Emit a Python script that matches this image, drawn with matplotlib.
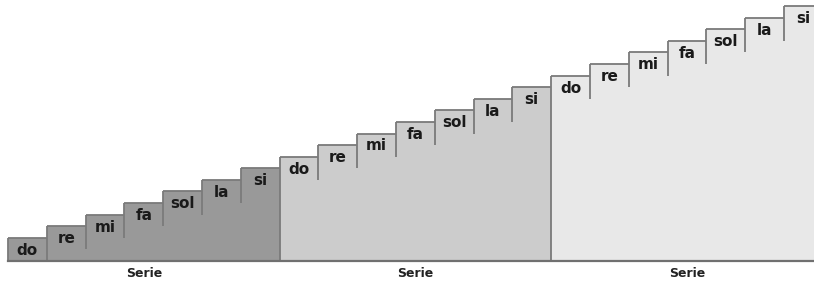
import numpy as np
import matplotlib
matplotlib.use("Agg")
import matplotlib.pyplot as plt

# data
notes = ["do", "re", "mi", "fa", "sol", "la", "si"]
serie_1 = [2, 3, 4, 5, 6, 7, 8]
serie_2 = [9, 10, 11, 12, 13, 14, 15]
serie_3 = [16, 17, 18, 19, 20, 21, 22]
series = [serie_1, serie_2, serie_3]
serie_labels = ["Serie", "Serie", "Serie"]
fills = ["#999999", "#cccccc", "#e8e8e8"]
line_col = "#7a7a7a"

W, H = 814, 284
fig = plt.figure(figsize=(W / 100, H / 100), dpi=100)
# the last group runs a little past the right edge, as in the original
ax = fig.add_axes([8 / W, 23 / H, 21 * 38.8 / W, 255 / H])

n = len(notes)
centers = []
for g, vals in enumerate(series):
    x = np.arange(n) + g * n
    vals = np.array(vals)
    ax.bar(x, vals, width=1.0, color=fills[g], edgecolor="none", zorder=1)
    # top edge of each step
    ax.hlines(vals, x - 0.5, x + 0.5, colors=line_col, lw=1.3, zorder=3,
              clip_on=False)
    # left edge: full for first step of a group, short drop otherwise
    low = np.maximum(vals - 3, 0)
    low[0] = 0
    ax.vlines(x - 0.5, low, vals, colors=line_col, lw=1.3, zorder=3,
              clip_on=False)
    for xi, v, lab in zip(x, vals, notes):
        ax.annotate(lab, (xi, v), xytext=(0, -9), textcoords="offset points",
                    ha="center", va="center", fontsize=11, fontweight="bold",
                    color="#1a1a1a", zorder=4)
    centers.append(x.mean())

ax.set_xlim(-0.5, 3 * n - 0.5)
ax.set_ylim(0, 22)
for s in ["top", "right", "left"]:
    ax.spines[s].set_visible(False)
ax.spines["bottom"].set_color("#707070")
ax.spines["bottom"].set_linewidth(1.6)
ax.spines["bottom"].set_zorder(5)
ax.set_yticks([])
ax.set_xticks(centers)
ax.set_xticklabels(serie_labels, fontsize=9, fontweight="bold", color="#222222")
ax.tick_params(axis="x", length=0, pad=4)

fig.savefig("out.png", dpi=100)
